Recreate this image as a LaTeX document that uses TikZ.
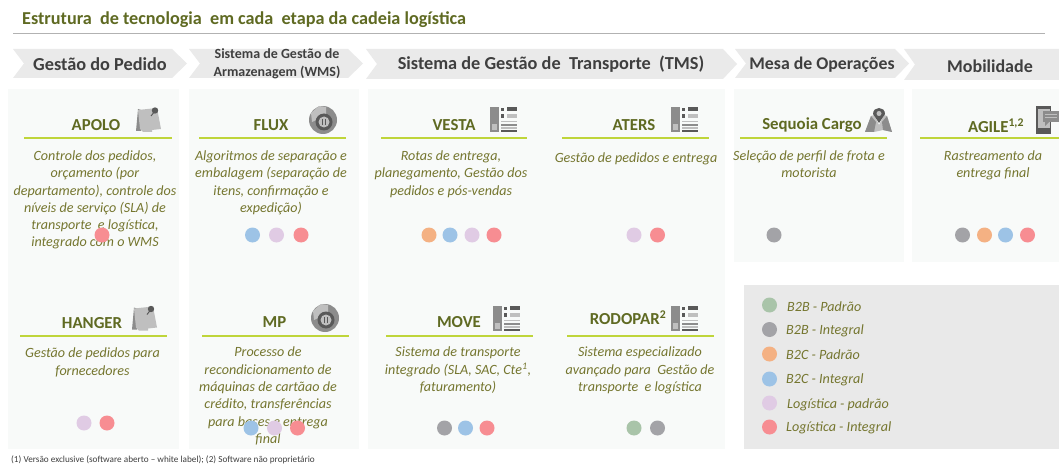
\documentclass[tikz,border=0pt]{standalone}
\usepackage{fontspec}
\setmainfont{Carlito}
\definecolor{olivetxt}{HTML}{75762F}
\definecolor{olivehead}{HTML}{5F6A22}
\definecolor{headtxt}{HTML}{3F3F3F}
\definecolor{chev}{HTML}{EAEAEA}
\definecolor{panel}{HTML}{F8FAF9}
\definecolor{legendbg}{HTML}{E9E9E9}
\definecolor{limeline}{HTML}{BFD53A}
\definecolor{cgreen}{HTML}{A9C4A9}
\definecolor{cgray}{HTML}{A3A3A7}
\definecolor{corange}{HTML}{F4B183}
\definecolor{cblue}{HTML}{9DC3E6}
\definecolor{cpurple}{HTML}{E0CBE4}
\definecolor{cred}{HTML}{F78D92}
\definecolor{icdark}{HTML}{595959}
\definecolor{icmid}{HTML}{8C8C8C}
\definecolor{iclight}{HTML}{BFBFBF}
\tikzset{
  x=1pt,y=-1pt,
  chevbox/.style={fill=chev,draw=none},
  panelbox/.style={fill=panel,draw=none},
  head/.style={font=\fontsize{18.3}{20}\selectfont\bfseries,text=headtxt,inner sep=0pt},
  headsmall/.style={font=\fontsize{14}{18}\selectfont\bfseries,text=headtxt,inner sep=0pt,align=center},
  prod/.style={font=\fontsize{16.8}{18}\selectfont\bfseries,text=olivehead,inner sep=0pt},
  desc/.style={font=\fontsize{14.1}{17.3}\selectfont\itshape,text=olivetxt,inner sep=0pt,align=center,anchor=north,execute at begin node=\strut},
  legtxt/.style={font=\fontsize{14.1}{16}\selectfont\itshape,text=olivetxt,inner sep=0pt,anchor=west},
  lime/.style={draw=limeline,line width=1.1pt},
  dot/.style={circle,minimum size=15pt,inner sep=0pt,draw=none},
  dgreen/.style={dot,fill=cgreen},
  dgray/.style={dot,fill=cgray},
  dorange/.style={dot,fill=corange},
  dblue/.style={dot,fill=cblue},
  dpurple/.style={dot,fill=cpurple},
  dred/.style={dot,fill=cred},
  pinicon/.pic={
    \fill[icmid] (3,2) -- (1,24) -- (6,24) -- (6,3) -- cycle;
    \fill[iclight] (3,3) -- (22,1) -- (26,22) -- (17,23) -- (17,25) -- (8,25) -- (5,22) -- cycle;
    \fill[icdark] (20,3.5) circle (3.2);
    \draw[icdark,line width=1pt] (20,4) -- (16,9);
  },
  discicon/.pic={
    \fill[icmid] (0,0) circle (14);
    \fill[iclight] (-12,-7) -- (-4,-14) -- (3,-13) -- (3,-5) -- (-11,2) -- cycle;
    \fill[icdark] (1,2) circle (8.5);
    \fill[iclight] (1,2) circle (5.5);
    \fill[icdark] (-1.2,-1) rectangle (0.2,5);
    \fill[icdark] (1.8,-1) rectangle (3.2,5);
  },
  docicon/.pic={
    \fill[icmid] (0,0) rectangle (9,25);
    \fill[iclight] (2,17) rectangle (7,23);
    \fill[icdark] (11,1) rectangle (14,4);
    \fill[icdark] (17,0) rectangle (27,4);
    \fill[icdark] (11,7) rectangle (14,11);
    \fill[iclight] (17,7) rectangle (27,11);
    \fill[iclight] (11,14) rectangle (27,15.5);
    \fill[icmid] (11,17.5) rectangle (27,19);
    \fill[iclight] (11,20.5) rectangle (27,22);
    \fill[icdark] (11,23.5) rectangle (27,25);
  },
  mapicon/.pic={
    \fill[iclight] (0,24) -- (6,8) -- (9,7) -- (14,17) -- (19,7) -- (22,8) -- (27,24) -- (18,22) -- (9,24) -- cycle;
    \fill[icmid] (6,8) -- (0,24) -- (9,24) -- (11,14) -- cycle;
    \fill[icmid] (17,14) -- (18,22) -- (27,24) -- (22,8) -- cycle;
    \fill[icdark] (8,6) .. controls (8,-2) and (20,-2) .. (20,6) -- (14,15) -- cycle;
    \fill[iclight] (14,5.5) circle (2.5);
  },
  phoneicon/.pic={
    \fill[icdark] (0,0) rectangle (15,28);
    \fill[iclight] (1.5,3) rectangle (13.5,22);
    \fill[icmid] (7,5) rectangle (23,16);
    \fill[icmid] (9,16) -- (13,16) -- (9,20) -- cycle;
    \fill[iclight] (9,8) rectangle (21,9.2);
    \fill[iclight] (9,11) rectangle (21,12.2);
  }
}
\begin{document}
\begin{tikzpicture}
\useasboundingbox (0,0) rectangle (1059,465);
\fill[white] (0,0) rectangle (1059,465);

% title
\node[anchor=base west,inner sep=0pt,font=\fontsize{18.2}{20}\selectfont\bfseries,text=olivehead] (title) at (22,25) {Estrutura\ \ de tecnologia\ \ em cada\ \ etapa da cadeia logística};
\coordinate (ruleL) at (13,33);
\coordinate (ruleR) at (1045,33);
\draw[draw=black!30,line width=0.8pt] (ruleL) -- (ruleR);

% chevrons
\fill[chevbox] (13,49) -- (172,49) -- (187,63.5) -- (172,78) -- (13,78) -- (24,63.5) -- cycle;
\fill[chevbox] (189,49) -- (348,49) -- (363,63.5) -- (348,78) -- (189,78) -- (200,63.5) -- cycle;
\fill[chevbox] (366,49) -- (723,49) -- (737,64) -- (723,79) -- (366,79) -- (377,64) -- cycle;
\fill[chevbox] (735,49) -- (895,49) -- (909,63.5) -- (895,78) -- (735,78) -- (746,63.5) -- cycle;
\fill[chevbox] (904,49) -- (1059,49) -- (1059,80) -- (904,80) -- (915,64.5) -- cycle;

\node[head] (h1) at (100,64.5) {Gestão do Pedido};
\node[headsmall] (h2) at (277,64) {Sistema de Gestão de\\Armazenagem (WMS)};
\node[head] (h3) at (551,64) {Sistema de Gestão de\ \ Transporte\ \ (TMS)};
\node[head,font=\fontsize{17.8}{20}\selectfont\bfseries] (h4) at (822,64.5) {Mesa de Operações};
\node[head,font=\fontsize{18}{20}\selectfont\bfseries] (h5) at (990,66) {Mobilidade};

% panels
\fill[panelbox] (8,89) rectangle (179,449);
\fill[panelbox] (189,89) rectangle (359,449);
\fill[panelbox] (368,89) rectangle (725,449);
\fill[panelbox] (734,89) rectangle (904,262);
\fill[panelbox] (912,89) rectangle (1059,262);
\fill[legendbg] (744,285) rectangle (1059,449);

% lime rules
\draw[lime] (24,138) -- (172,138);
\draw[lime] (199,138) -- (346,138);
\draw[lime] (381,138) -- (527,138);
\draw[lime] (562,138) -- (709,138);
\draw[lime] (740,138) -- (887,138);
\draw[lime] (920,138) -- (1059,138);
\draw[lime] (20,336) -- (167,336);
\draw[lime] (202,336) -- (349,336);
\draw[lime] (386,336) -- (533,336);
\draw[lime] (567,336) -- (714,336);

% icons
\pic at (135,107) {pinicon};
\pic at (131,305.5) {pinicon};
\pic at (323,120) {discicon};
\pic at (325,318) {discicon};
\pic at (490,107) {docicon};
\pic at (671,107) {docicon};
\pic at (493,305.5) {docicon};
\pic at (671,305.5) {docicon};
\pic at (865,108) {mapicon};
\pic at (1036,106) {phoneicon};

% product names
\node[prod] (apolo) at (96,125) {APOLO};
\node[prod] (flux) at (271,125) {FLUX};
\node[prod] (vesta) at (454,125) {VESTA};
\node[prod] (aters) at (634,125) {ATERS};
\node[prod] (sequoia) at (812,125) {Sequoia Cargo};
\node[prod] (agile) at (996,126) {AGILE\textsuperscript{1,2}};
\node[prod] (hanger) at (92,323) {HANGER};
\node[prod] (mp) at (274.5,322.5) {MP};
\node[prod] (move) at (459,322.5) {MOVE};
\node[prod] (rodopar) at (628,318) {RODOPAR\textsuperscript{2}};

% descriptions
\node[desc] (dapolo) at (95,150.5) {Controle dos pedidos,\\orçamento (por\\departamento), controle dos\\níveis de serviço (SLA) de\\transporte\ \ e logística,\\integrado com o WMS};
\node[desc] (dflux) at (271,150.5) {Algoritmos de separação e\\embalagem (separação de\\itens, confirmação e\\expedição)};
\node[desc] (dvesta) at (451,150.5) {Rotas de entrega,\\planegamento, Gestão dos\\pedidos e pós-vendas};
\node[desc] (daters) at (636,150.5) {Gestão de pedidos e entrega};
\node[desc] (dseq) at (809,150.5) {Seleção de perfil de frota e\\motorista};
\node[desc] (dagile) at (993,150.5) {Rastreamento da\\entrega final};
\node[desc] (dhanger) at (92.5,348) {Gestão de pedidos para\\fornecedores};
\node[desc] (dmp) at (268,347) {Processo de\\recondicionamento de\\máquinas de cartãao de\\crédito, transferências\\para bases e entrega\\final};
\node[desc] (dmove) at (458,347) {Sistema de transporte\\integrado (SLA, SAC, Cte\textsuperscript{1},\\faturamento)};
\node[desc] (drodo) at (640,347) {Sistema especializado\\avançado para\ \ Gestão de\\transporte\ \ e logística};

% dots
\node[dred] (a1) at (102,235) {};
\node[dblue] (f1) at (252.5,235) {};
\node[dpurple] (f2) at (276.5,235) {};
\node[dred] (f3) at (301,235) {};
\node[dorange] (v1) at (429,235) {};
\node[dblue] (v2) at (450,235) {};
\node[dpurple] (v3) at (472,235) {};
\node[dred] (v4) at (494,235) {};
\node[dpurple] (t1) at (634,235) {};
\node[dred] (t2) at (657.5,235) {};
\node[dgray] (s1) at (774,235) {};
\node[dgray] (g1) at (962.5,235) {};
\node[dorange] (g2) at (984.5,235) {};
\node[dblue] (g3) at (1005.5,235) {};
\node[dred] (g4) at (1027.5,235) {};
\node[dpurple] (n1) at (84,423) {};
\node[dred] (n2) at (107,423) {};
\node[dblue] (m1) at (251,428) {};
\node[dpurple] (m2) at (274.5,428) {};
\node[dred] (m3) at (297.5,428) {};
\node[dgray] (o1) at (444.5,428) {};
\node[dblue] (o2) at (465.5,428) {};
\node[dred] (o3) at (487,428) {};
\node[dgreen] (r1) at (634,428) {};
\node[dgray] (r2) at (657.5,428) {};

% legend
\node[dgreen] (l1) at (769.5,305) {};
\node[dgray] (l2) at (769.5,329.5) {};
\node[dorange] (l3) at (769.5,354) {};
\node[dblue] (l4) at (769.5,379) {};
\node[dpurple] (l5) at (769.5,403) {};
\node[dred] (l6) at (769.5,427) {};
\node[legtxt] (t1x) at (787,306.5) {B2B - Padrão};
\node[legtxt] (t2x) at (786,330.5) {B2B - Integral};
\node[legtxt] (t3x) at (786,355) {B2C - Padrão};
\node[legtxt] (t4x) at (786,380) {B2C - Integral};
\node[legtxt] (t5x) at (787,404.5) {Logística - padrão};
\node[legtxt] (t6x) at (786,428) {Logística - Integral};

% footnote
\node[anchor=west,inner sep=0pt,font=\fontsize{9.2}{11}\selectfont,text=headtxt] (foot) at (11,460) {(1) Versão exclusive (software aberto – white label); (2) Software não proprietário};
\end{tikzpicture}
\end{document}
